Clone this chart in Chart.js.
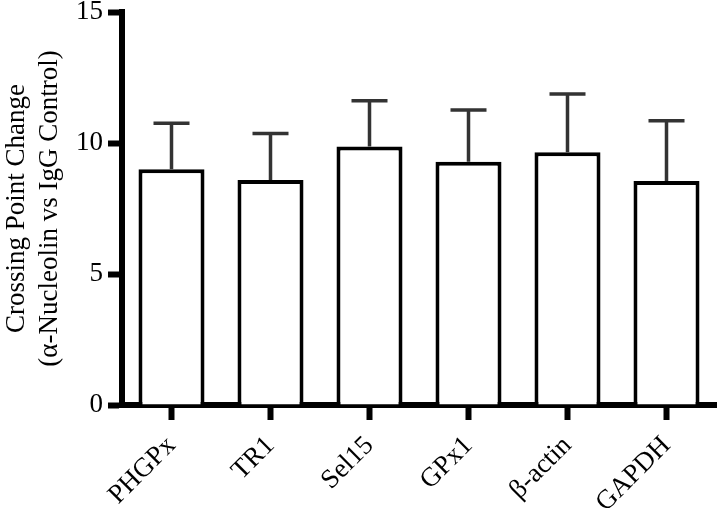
<!DOCTYPE html>
<html>
<head>
<meta charset="utf-8">
<script src="https://cdn.jsdelivr.net/npm/chart.js@4.4.0/dist/chart.umd.min.js"></script>
<style>
  body { margin: 0; background: #fff; }
  #wrap { width: 720px; height: 508px; }
</style>
</head>
<body>
<div id="wrap"><canvas id="cnv" width="720" height="508"></canvas></div>
<script>
// categories and values
var genes = ["PHGPx", "TR1", "Sel15", "GPx1", "\u03B2-actin", "GAPDH"];
var crossPt = [9.0, 8.59, 9.87, 9.28, 9.65, 8.55];
var errUp = [1.75, 1.77, 1.74, 1.98, 2.22, 2.30];
var yTicks = [0, 5, 10, 15];

var serif = "'Liberation Serif', 'Times New Roman', serif";

// upper error bars only, like the original
var errBars = {
  id: 'errBars',
  afterDatasetsDraw: function(chart) {
    var ctx = chart.ctx;
    var xs = chart.scales.x, ys = chart.scales.y;
    ctx.save();
    ctx.strokeStyle = '#333';
    ctx.lineWidth = 3.5;
    for (var i = 0; i < crossPt.length; i++) {
      var px = xs.getPixelForValue(i);
      var yb = ys.getPixelForValue(crossPt[i]);
      var yt = ys.getPixelForValue(crossPt[i] + errUp[i]);
      ctx.beginPath();
      ctx.moveTo(px, yb);
      ctx.lineTo(px, yt);
      ctx.moveTo(px - 18, yt);
      ctx.lineTo(px + 18, yt);
      ctx.stroke();
    }
    ctx.restore();
  }
};

var ctx = document.getElementById("cnv");
var chrt = new Chart(ctx, {
  type: 'bar',
  data: {
    labels: genes,
    datasets: [{
      data: crossPt,
      backgroundColor: '#fff',
      borderColor: '#000',
      borderWidth: 4,
      categoryPercentage: 0.667,
      barPercentage: 1
    }]
  },
  options: {
    responsive: false,
    animation: false,
    devicePixelRatio: 1,
    layout: { padding: { top: 12, right: 4, left: 0, bottom: 0 } },
    plugins: { legend: { display: false }, tooltip: { enabled: false } },
    scales: {
      x: {
        z: 1,
        offset: true,
        border: { display: true, color: '#000', width: 6 },
        grid: { display: true, offset: false, drawOnChartArea: false, drawTicks: true, tickLength: 15, tickWidth: 6, tickColor: '#000' },
        ticks: { color: '#000', font: { family: serif, size: 27 }, maxRotation: 45, minRotation: 45, autoSkip: false, padding: 10 },
        afterFit: function(s) { s.height = 103; }
      },
      y: {
        z: 1,
        min: 0,
        max: 15,
        border: { display: true, color: '#000', width: 6 },
        grid: { display: true, drawOnChartArea: false, drawTicks: true, tickLength: 14, tickWidth: 6, tickColor: '#000' },
        afterBuildTicks: function(s) { s.ticks = yTicks.map(function(v) { return { value: v }; }); },
        ticks: { color: '#000', font: { family: serif, size: 27 }, padding: 5 },
        title: {
          display: true,
          text: ["Crossing Point Change", "(\u03B1-Nucleolin vs IgG Control)"],
          color: '#000',
          font: { family: serif, size: 27, lineHeight: 1.2 },
          padding: { top: 1, bottom: 0 }
        },
        afterFit: function(s) { s.width = 122; s.paddingTop = 0; s.paddingBottom = 0; }
      }
    }
  },
  plugins: [errBars]
});
</script>
</body>
</html>
